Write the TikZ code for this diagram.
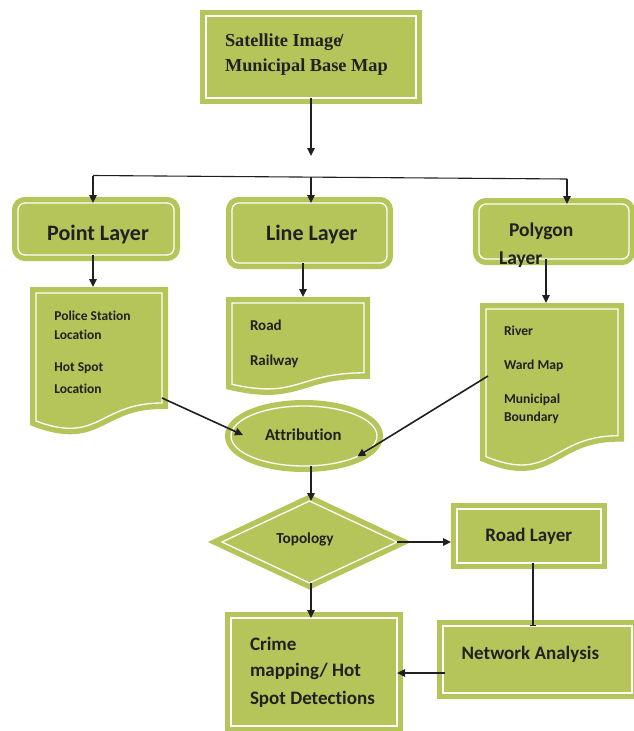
\documentclass[tikz,border=0pt]{standalone}
\usepackage{fontspec}
\setmainfont{Carlito}[Ligatures={NoCommon}]
\newfontfamily\serifbold{Liberation Serif}
\usetikzlibrary{arrows.meta,shapes.geometric,calc}
\definecolor{G}{RGB}{181,197,90}
\definecolor{ink}{RGB}{35,31,32}
\definecolor{txt}{RGB}{33,33,33}
\begin{document}
\begin{tikzpicture}[x=1pt,y=-1pt,
  gshape/.style={fill=G,draw=white,line width=1.3pt,preaction={draw=G,line width=12pt}},
  gbox/.style={gshape,rectangle,inner sep=0pt,outer sep=0pt},
  grbox/.style={gbox,rounded corners=7pt},
  anchorbox/.style={rectangle,inner sep=0pt,outer sep=0pt,draw=none},
  lbl/.style={inner sep=0pt,outer sep=0pt,text=txt,font=\bfseries\fontsize{#1pt}{#1pt}\selectfont},
  conn/.style={draw=ink,line width=1.6pt,-{Triangle[length=8pt,width=7.5pt]}},
  plain/.style={draw=ink,line width=1.6pt},
]
\useasboundingbox (0,0) rectangle (634,731);

% ---- shapes ----
\node[gbox,minimum width=210pt,minimum height=82pt] (top) at (311,57) {};
\node[grbox,minimum width=156pt,minimum height=52pt] (pl) at (96,229) {};
\node[grbox,minimum width=155pt,minimum height=60pt] (ll) at (309.5,233) {};
\node[grbox,minimum width=150pt,minimum height=55pt] (pg) at (554,231.5) {};

\path[gshape] (36,293) -- (162,293) -- (162,403) .. controls (99,403) and (99,444.7) .. (36,421) -- cycle;
\node[anchorbox,minimum width=126pt,minimum height=137pt] (pdoc) at (99,361.5) {};
\path[gshape] (232,303) -- (364,303) -- (364,372.8) .. controls (298,372.8) and (298,399.3) .. (232,384.3) -- cycle;
\node[anchorbox,minimum width=132pt,minimum height=87pt] (ldoc) at (298,346.5) {};
\path[gshape] (486,309) -- (618,309) -- (618,435.7) .. controls (552,435.7) and (552,483.9) .. (486,456.6) -- cycle;
\node[anchorbox,minimum width=132pt,minimum height=158pt] (pgdoc) at (552,388) {};

\node[gshape,ellipse,inner sep=0pt,outer sep=0pt,minimum width=146pt,minimum height=60pt] (attr) at (304,436) {};
\node[gshape,diamond,inner sep=0pt,outer sep=0pt,minimum width=175pt,minimum height=82pt] (topo) at (309.5,542) {};
\node[gbox,minimum width=144pt,minimum height=54pt] (road) at (529,536) {};
\node[gbox,minimum width=189pt,minimum height=67pt] (net) at (537.5,659.5) {};
\node[gbox,minimum width=166pt,minimum height=108pt] (crime) at (314,672) {};

% ---- texts ----
\node[lbl=18.3,anchor=base west,font=\serifbold\bfseries\fontsize{18.3pt}{18.3pt}\selectfont] (t1) at (225,46.7) {Satellite Image\kern-3pt/};
\node[lbl=18.3,anchor=base west,font=\serifbold\bfseries\fontsize{18.3pt}{18.3pt}\selectfont] (t2) at (225,71) {Municipal Base Map};
\node[lbl=22,anchor=base] (t3) at (98,240) {Point Layer};
\node[lbl=22,anchor=base] (t4) at (311.7,240) {Line Layer};
\node[lbl=19.5,anchor=base west] (t5) at (509,236.7) {Polygon};
\node[lbl=19.5,anchor=base west] (t6) at (499,264) {Layer};
\node[lbl=13.5,anchor=base west] (t7) at (54.3,320) {Police Station};
\node[lbl=13.5,anchor=base west] (t8) at (54.3,339) {Location};
\node[lbl=13.5,anchor=base west] (t9) at (54.3,371.7) {Hot Spot};
\node[lbl=13.5,anchor=base west] (t10) at (54.3,393) {Location};
\node[lbl=15,anchor=base west] (t11) at (250,330.7) {Road};
\node[lbl=15,anchor=base west] (t12) at (250,365.7) {Railway};
\node[lbl=13.6,anchor=base west] (t13) at (504,335.7) {River};
\node[lbl=13.6,anchor=base west] (t14) at (504,369) {Ward Map};
\node[lbl=13.6,anchor=base west] (t15) at (504,403) {Municipal};
\node[lbl=13.6,anchor=base west] (t16) at (504,421.7) {Boundary};
\node[lbl=16.6,anchor=base] (t17) at (303.3,440.7) {Attribution};
\node[lbl=15.3,anchor=base] (t18) at (305,543) {Topology};
\node[lbl=19,anchor=base] (t19) at (528.8,541) {Road Layer};
\node[lbl=19,anchor=base west] (t20) at (461.7,659) {Network Analysis};
\node[lbl=19,anchor=base west] (t21) at (250,650.7) {Crime};
\node[lbl=19,anchor=base west] (t22) at (250,676.7) {mapping/ Hot};
\node[lbl=19,anchor=base west] (t23) at (250,704) {Spot Detections};

% ---- connectors ----
\coordinate (c1) at (311,156);
\coordinate (hl) at (93,175.5);
\coordinate (hm) at (311,177.1);
\coordinate (hr) at (567,179);
\coordinate (l1) at ($(ldoc.north)+(5,0)$);
\coordinate (p1) at ($(pgdoc.north)+(-6,0)$);
\coordinate (pd1) at (162,398);
\coordinate (pg1) at (488,376);
\coordinate (at1) at ($(attr.west)+(12,-1)$);
\coordinate (rn) at ($(road.south)+(4,0)$);
\coordinate (nc) at (445,673);

\draw[conn] (top.south -| c1) -- (c1);
\draw[draw=ink,line width=1.1pt] (hl) -- (hr);
\draw[conn] (hl) -- (hl |- pl.north);
\draw[conn] (hm) -- (hm |- ll.north);
\draw[conn] (hr) -- (hr |- pg.north);
\draw[conn,shorten >=6pt] (pl.south -| hl) -- (pdoc.north -| hl);
\draw[conn,shorten >=6pt] (l1 |- ll.south) -- (l1);
\draw[conn,shorten >=6pt] (p1 |- pg.south) -- (p1);
\draw[conn] (pd1) -- (at1);
\draw[conn] (pg1) -- (attr.-21);
\draw[conn] (attr.south -| hm) -- (topo.north -| hm);
\draw[conn,shorten >=6pt] (topo.east) -- (topo.east -| road.west);
\draw[plain,-{Bar[width=6pt,line width=1pt]}] (rn) -- (rn |- net.north);
\draw[conn] (nc) -- (nc -| crime.east);
\draw[conn] (topo.south -| hm) -- (crime.north -| hm);
\end{tikzpicture}
\end{document}
